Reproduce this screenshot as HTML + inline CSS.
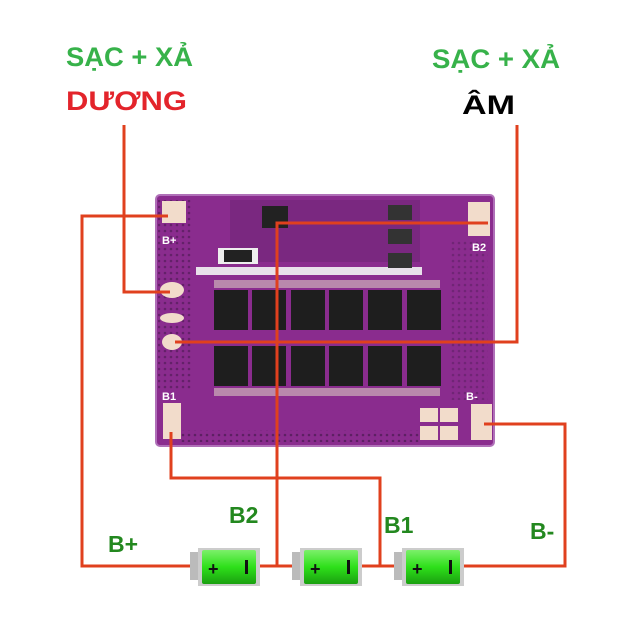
<!DOCTYPE html>
<html><head><meta charset="utf-8"><style>
html,body{margin:0;padding:0;background:#fff;}
svg{display:block;}
text{font-family:"Liberation Sans","DejaVu Sans",sans-serif;font-weight:bold;}
</style></head><body>
<svg width="642" height="642" viewBox="0 0 642 642" xmlns="http://www.w3.org/2000/svg">
<defs>
<linearGradient id="bat" x1="0" y1="0" x2="0" y2="1">
<stop offset="0" stop-color="#7cf06a"/><stop offset="0.5" stop-color="#2ee01a"/><stop offset="1" stop-color="#1aa010"/>
</linearGradient>
<pattern id="dots" width="6" height="6" patternUnits="userSpaceOnUse">
<circle cx="3" cy="3" r="1.3" fill="#4a1a50"/>
</pattern>
</defs>
<!-- labels -->
<text x="66" y="66" font-size="27" fill="#37b24a" textLength="127" lengthAdjust="spacingAndGlyphs">SẠC + XẢ</text>
<text x="66" y="110" font-size="27" fill="#e3242b" textLength="121" lengthAdjust="spacingAndGlyphs">DƯƠNG</text>
<text x="432" y="68" font-size="27" fill="#37b24a" textLength="128" lengthAdjust="spacingAndGlyphs">SẠC + XẢ</text>
<text x="462" y="114" font-size="27" fill="#000" textLength="53" lengthAdjust="spacingAndGlyphs">ÂM</text>

<!-- board -->
<rect x="156" y="195" width="338" height="251" rx="4" fill="#8a2c8e"/>
<rect x="158" y="200" width="34" height="190" fill="url(#dots)" opacity="0.6"/>
<rect x="180" y="430" width="240" height="12" fill="url(#dots)" opacity="0.7"/>
<rect x="450" y="240" width="38" height="160" fill="url(#dots)" opacity="0.4"/>
<rect x="156" y="195" width="338" height="251" rx="4" fill="none" stroke="#b070b8" stroke-width="2"/>
<rect x="230" y="200" width="190" height="62" fill="#7a2880"/>
<rect x="196" y="267" width="226" height="8" fill="#e8e0ea"/>
<rect x="218" y="248" width="40" height="16" fill="#eee"/><rect x="224" y="250" width="28" height="12" fill="#222"/>
<rect x="262" y="206" width="26" height="22" fill="#222"/>
<rect x="388" y="205" width="24" height="15" fill="#333"/><rect x="388" y="229" width="24" height="15" fill="#333"/><rect x="388" y="253" width="24" height="15" fill="#333"/>
<!-- mosfets -->
<g fill="#1e1e1e">
<rect x="214" y="290" width="34" height="40"/><rect x="252" y="290" width="34" height="40"/><rect x="291" y="290" width="34" height="40"/><rect x="329" y="290" width="34" height="40"/><rect x="368" y="290" width="34" height="40"/><rect x="407" y="290" width="34" height="40"/>
<rect x="214" y="346" width="34" height="40"/><rect x="252" y="346" width="34" height="40"/><rect x="291" y="346" width="34" height="40"/><rect x="329" y="346" width="34" height="40"/><rect x="368" y="346" width="34" height="40"/><rect x="407" y="346" width="34" height="40"/>
</g>
<g fill="#d8c8c0">
<rect x="214" y="280" width="226" height="8" opacity="0.6"/>
<rect x="214" y="388" width="226" height="8" opacity="0.6"/>
</g>
<!-- pads -->
<g fill="#f2dccb">
<rect x="162" y="201" width="24" height="22"/>
<rect x="468" y="202" width="22" height="34"/>
<rect x="163" y="403" width="18" height="36"/>
<rect x="471" y="404" width="21" height="36"/>
<rect x="420" y="408" width="18" height="14"/><rect x="440" y="408" width="18" height="14"/>
<rect x="420" y="426" width="18" height="14"/><rect x="440" y="426" width="18" height="14"/>
<ellipse cx="172" cy="290" rx="12" ry="8"/>
<ellipse cx="172" cy="318" rx="12" ry="5"/>
<ellipse cx="172" cy="342" rx="10" ry="8"/>
</g>
<g fill="#fff" font-size="11">
<text x="162" y="244" font-weight="normal">B+</text>
<text x="472" y="251" font-weight="normal">B2</text>
<text x="162" y="400" font-weight="normal">B1</text>
<text x="466" y="400" font-weight="normal">B-</text>
</g>

<!-- wires -->
<g fill="none" stroke="#e0401e" stroke-width="3">
<polyline points="124,125 124,292 170,292"/>
<polyline points="517,125 517,342 175,342"/>
<polyline points="488,223 277,223 277,566"/>
<polyline points="168,216 82,216 82,566 190,566"/>
<polyline points="171,432 171,478 380,478 380,566"/>
<polyline points="484,424 565,424 565,566 462,566"/>
<line x1="258" y1="566" x2="294" y2="566"/>
<line x1="360" y1="566" x2="396" y2="566"/>
</g>

<!-- batteries -->
<g>
<g transform="translate(190,548)">
<rect x="0" y="4" width="10" height="28" fill="#bbb"/><rect x="8" y="0" width="62" height="38" fill="#ccc"/>
<rect x="12" y="2" width="54" height="34" rx="2" fill="url(#bat)"/>
<text x="18" y="27" font-size="18" fill="#111">+</text><rect x="55" y="12" width="3" height="14" fill="#111"/>
</g>
<g transform="translate(292,548)">
<rect x="0" y="4" width="10" height="28" fill="#bbb"/><rect x="8" y="0" width="62" height="38" fill="#ccc"/>
<rect x="12" y="2" width="54" height="34" rx="2" fill="url(#bat)"/>
<text x="18" y="27" font-size="18" fill="#111">+</text><rect x="55" y="12" width="3" height="14" fill="#111"/>
</g>
<g transform="translate(394,548)">
<rect x="0" y="4" width="10" height="28" fill="#bbb"/><rect x="8" y="0" width="62" height="38" fill="#ccc"/>
<rect x="12" y="2" width="54" height="34" rx="2" fill="url(#bat)"/>
<text x="18" y="27" font-size="18" fill="#111">+</text><rect x="55" y="12" width="3" height="14" fill="#111"/>
</g>
</g>

<g fill="#23881f" font-size="23">
<text x="229" y="523">B2</text>
<text x="108" y="552">B+</text>
<text x="384" y="533">B1</text>
<text x="530" y="539">B-</text>
</g>
</svg>
</body></html>
